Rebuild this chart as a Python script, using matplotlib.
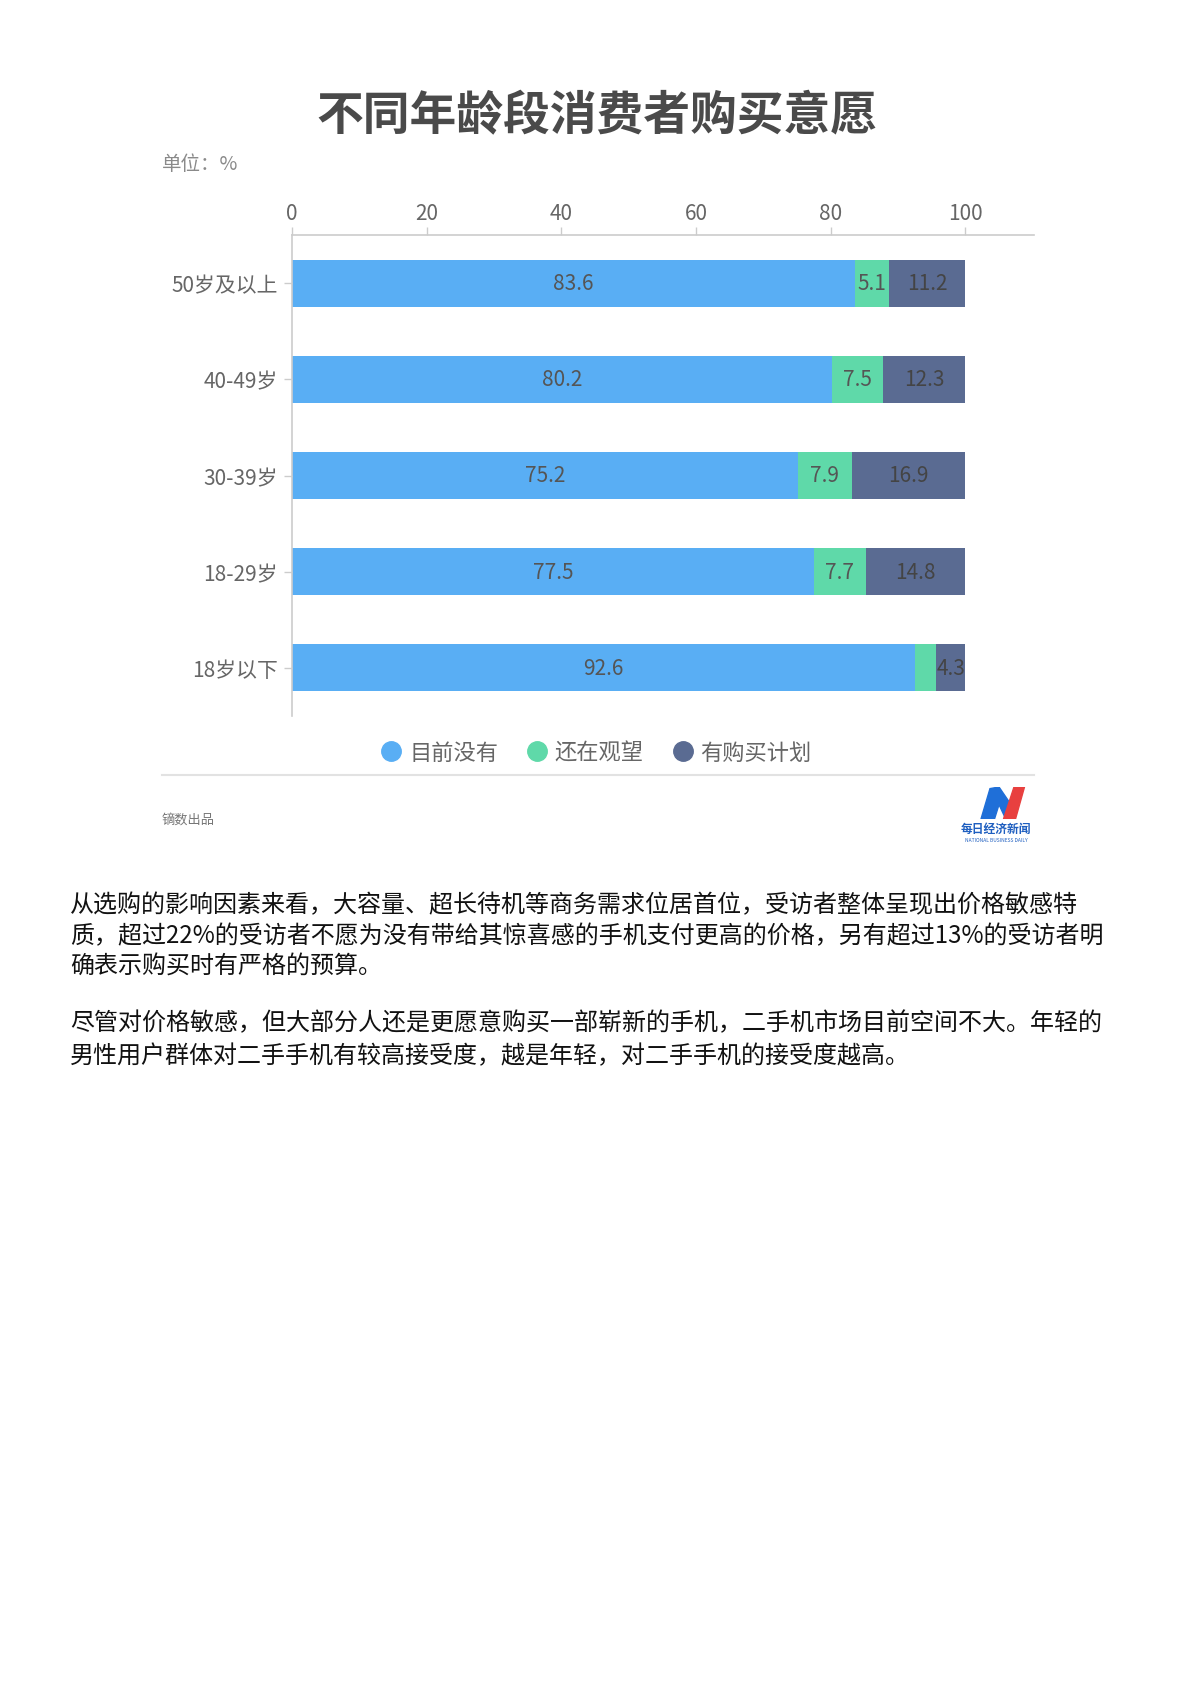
"""Stacked bar chart: purchase intention by age group."""

import matplotlib
matplotlib.use("Agg")
import matplotlib.pyplot as plt
import numpy as np
from matplotlib.lines import Line2D
from matplotlib.patches import Polygon

plt.rcParams["font.family"] = ["Noto Sans CJK SC", "DejaVu Sans"]

# data
age_groups = ["50岁及以上", "40-49岁", "30-39岁", "18-29岁", "18岁以下"]
series_names = ["目前没有", "还在观望", "有购买计划"]
no_plan = [83.6, 80.2, 75.2, 77.5, 92.6]
watching = [5.1, 7.5, 7.9, 7.7, 3.1]
planning = [11.2, 12.3, 16.9, 14.8, 4.3]
x_ticks = [0, 20, 40, 60, 80, 100]

colors = ["#59aef4", "#5fd9a9", "#5a6b92"]
label_colors = ["#555555", "#555555", "#444444"]

W, H = 1189, 1683
fig = plt.figure(figsize=(W / 100, H / 100), dpi=100)


def fx(px):
    return px / W


def fy(py):
    return 1 - py / H


# title and unit
fig.text(fx(597), fy(116), "不同年龄段消费者购买意愿", ha="center", va="center",
         fontsize=33.7, fontweight="bold", color="#4a4a4a")
fig.text(fx(162), fy(164), "单位：%", ha="left", va="center", fontsize=14, color="#8a8a8a")

# main axes
ax = fig.add_axes([fx(292), fy(717), fx(1034 - 292), (717 - 236) / H])
y = np.arange(len(age_groups))
left = np.zeros(len(age_groups))
for values, color, lc in zip([no_plan, watching, planning], colors, label_colors):
    vals = np.array(values)
    ax.barh(y, vals, left=left, height=0.49, color=color, edgecolor="none")
    for yi, l, v in zip(y, left, vals):
        if v >= 4:
            ax.text(l + v / 2, yi, f"{v:g}", ha="center", va="center", fontsize=15, color=lc)
    left = left + vals

ax.set_xlim(0, 110.2)
ax.set_ylim(len(age_groups) - 0.5, -0.5)
ax.set_yticks(y)
ax.set_yticklabels(age_groups)
ax.set_xticks(x_ticks)
ax.xaxis.tick_top()
ax.tick_params(axis="x", colors="#cccccc", labelcolor="#666666", labelsize=15, length=6, width=1, pad=2)
ax.tick_params(axis="y", colors="#cccccc", labelcolor="#666666", labelsize=15, length=6, width=1, pad=4)
for side in ["right", "bottom"]:
    ax.spines[side].set_visible(False)
for side in ["top", "left"]:
    ax.spines[side].set_color("#cccccc")
    ax.spines[side].set_linewidth(1.2)

# legend
handles = [Line2D([], [], marker="o", linestyle="none", markersize=14, markerfacecolor=c,
                  markeredgecolor=c) for c in colors]
fig.legend(handles, series_names, loc="center", bbox_to_anchor=(fx(596), fy(753)), ncol=3,
           frameon=False, fontsize=16, labelcolor="#666666", handletextpad=0.3,
           columnspacing=1.25, handlelength=1.0)

# separator and source
fig.add_artist(Line2D([fx(162), fx(1034)], [fy(776), fy(776)], color="#e2e2e2", lw=1.5))
fig.text(fx(162), fy(820), "镝数出品", ha="left", va="center", fontsize=9.5, color="#777777")

# logo
lax = fig.add_axes([fx(960), fy(820), fx(75), 32 / H])
lax.set_xlim(0, 1)
lax.set_ylim(0, 1)
lax.axis("off")
lax.add_patch(Polygon([(0.28, 0.0), (0.40, 0.95), (0.52, 1.0), (0.68, 0.45), (0.6, 0.05), (0.52, 0.45),
                       (0.46, 0.0)], closed=True, color="#1f6fd8"))
lax.add_patch(Polygon([(0.58, 0.0), (0.72, 1.0), (0.86, 1.0), (0.74, 0.0)], closed=True, color="#e8403f"))
fig.text(fx(996), fy(829), "每日经济新闻", ha="center", va="center", fontsize=8.5,
         fontweight="bold", style="italic", color="#1f5fc0")
fig.text(fx(996), fy(841), "NATIONAL BUSINESS DAILY", ha="center", va="center", fontsize=3.5,
         color="#1f5fc0")

# body text
para_lines = [
    (905, "从选购的影响因素来看，大容量、超长待机等商务需求位居首位，受访者整体呈现出价格敏感特"),
    (936, "质，超过22%的受访者不愿为没有带给其惊喜感的手机支付更高的价格，另有超过13%的受访者明"),
    (967, "确表示购买时有严格的预算。"),
    (1023, "尽管对价格敏感，但大部分人还是更愿意购买一部崭新的手机，二手机市场目前空间不大。年轻的"),
    (1056, "男性用户群体对二手手机有较高接受度，越是年轻，对二手手机的接受度越高。"),
]
for py, line in para_lines:
    fig.text(fx(70), fy(py), line, ha="left", va="center", fontsize=17.3, color="#111111")

fig.savefig("out.png", dpi=100)
